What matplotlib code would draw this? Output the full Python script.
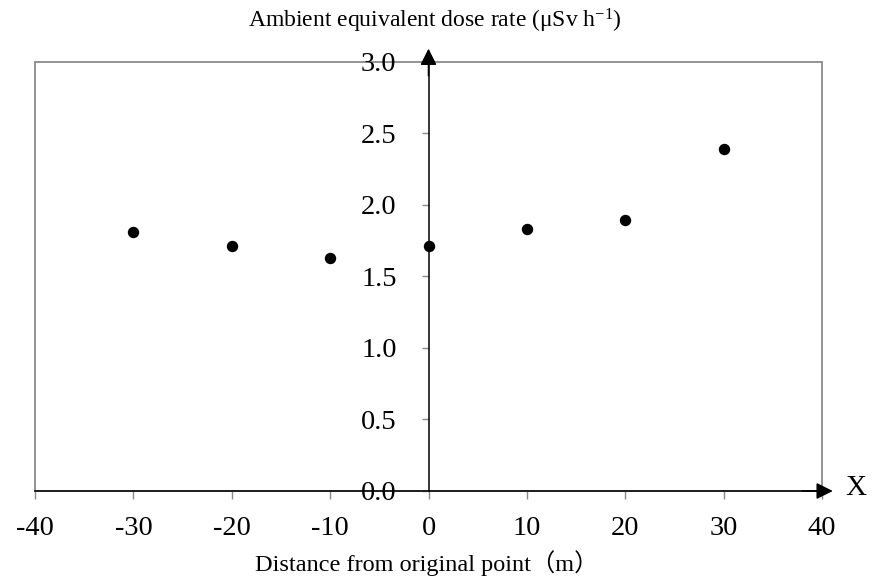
import matplotlib
matplotlib.use('Agg')
import matplotlib.pyplot as plt
from matplotlib.patches import Rectangle

plt.rcParams['font.family'] = ['Liberation Serif', 'Noto Sans CJK JP']
plt.rcParams['mathtext.fontset'] = 'custom'
plt.rcParams['mathtext.rm'] = 'Liberation Serif'
plt.rcParams['mathtext.it'] = 'Liberation Serif:italic'

# Data
distance = [-30, -20, -10, 0, 10, 20, 30]
dose_rate = [1.81, 1.71, 1.63, 1.71, 1.83, 1.89, 2.39]
x_ticks = [-40, -30, -20, -10, 0, 10, 20, 30, 40]
y_ticks = [0.0, 0.5, 1.0, 1.5, 2.0, 2.5, 3.0]

W, H = 872, 586
fig = plt.figure(figsize=(W / 100, H / 100), dpi=100)
ax = fig.add_axes([35 / W, 95 / H, 787 / W, 429.5 / H])
ax.set_xlim(-40, 40)
ax.set_ylim(0, 3)

for s in ['top', 'right']:
    ax.spines[s].set_visible(False)
ax.spines['left'].set_position(('data', 0))
ax.spines['bottom'].set_position(('data', 0))
ax.spines['left'].set_color('black')
ax.spines['bottom'].set_color('black')
ax.spines['left'].set_linewidth(1.1)
ax.spines['bottom'].set_linewidth(1.1)
ax.spines['left'].set_zorder(3)
ax.spines['bottom'].set_zorder(3)

ax.add_patch(Rectangle((0, 0), 1, 1, transform=ax.transAxes, fill=False,
                       edgecolor='#8a8a8a', lw=1.3, zorder=0.5, clip_on=False))

ax.set_xticks(x_ticks)
ax.set_xticklabels([str(v) for v in x_ticks])
ax.set_yticks(y_ticks)
ax.set_yticklabels([f'{v:.1f}' for v in y_ticks])
ax.tick_params(axis='x', direction='out', length=6, width=1, color='#8a8a8a',
               labelsize=20.5, pad=12)
ax.tick_params(axis='y', direction='out', length=5, width=1, color='#8a8a8a',
               labelsize=20.5, pad=18)

ax.plot(distance, dose_rate, 'o', color='black', ms=7.2, clip_on=False, zorder=5)

arrow = dict(arrowstyle='-|>,head_length=0.5,head_width=0.25', color='black',
             lw=1.1, mutation_scale=20, shrinkA=0, shrinkB=0)
ax.annotate('', xy=(41.1, 0), xytext=(38, 0), arrowprops=arrow,
            annotation_clip=False, zorder=4)
ax.annotate('', xy=(0, 3.09), xytext=(0, 2.9), arrowprops=arrow,
            annotation_clip=False, zorder=4)

fig.text(856 / W, 1 - 488 / H, 'X', ha='center', va='center', size=21)
fig.text(435 / W, 1 - 21 / H, r'Ambient equivalent dose rate (μSv h$^{\mathrm{-1}}$)',
         ha='center', va='center', size=17)
fig.text(427 / W, 1 - 563 / H, 'Distance from original point（m）',
         ha='center', va='center', size=17.5)

fig.savefig('out.png', dpi=100)
